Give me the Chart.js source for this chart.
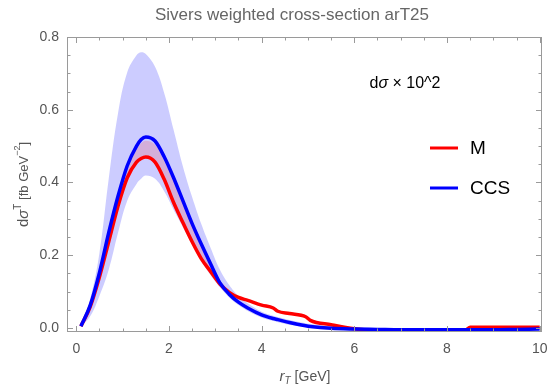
<!DOCTYPE html>
<html>
<head>
<meta charset="utf-8">
<script src="https://cdn.jsdelivr.net/npm/chart.js@4.4.1/dist/chart.umd.min.js"></script>
<style>
  html, body { margin: 0; padding: 0; background: #fff; }
  #wrap { width: 547px; height: 384px; }
</style>
</head>
<body>
<div id="wrap"><canvas id="chart" width="547" height="384"></canvas></div>
<script>
// --- Données ---
const rT = [0.1, 0.3, 0.5, 0.7, 0.9, 1.1, 1.3, 1.4, 1.5, 1.7, 1.9, 2.1, 2.3, 2.5, 2.7, 2.9, 3.1, 3.3, 3.5, 3.7,
            4.0, 4.25, 4.35, 4.6, 4.95, 5.05, 5.5, 6.0, 6.5, 7.0, 7.5, 8.0, 8.4, 8.5, 9.0, 9.5, 10.0];

const ccs = [0.005, 0.062, 0.152, 0.262, 0.362, 0.446, 0.500, 0.518, 0.525, 0.514, 0.470, 0.413, 0.350, 0.287, 0.230, 0.176, 0.124, 0.093, 0.071, 0.055,
             0.036, 0.026, 0.023, 0.015, 0.006, 0.004, -0.001, -0.003, -0.004, -0.005, -0.005, -0.005, -0.005, -0.005, -0.005, -0.004, -0.003];

const mCurve = [0.005, 0.058, 0.140, 0.237, 0.335, 0.413, 0.456, 0.466, 0.470, 0.456, 0.408, 0.345, 0.290, 0.237, 0.190, 0.155, 0.121, 0.098, 0.084, 0.076,
                0.063, 0.055, 0.046, 0.040, 0.031, 0.021, 0.009, -0.002, -0.007, -0.009, -0.009, -0.006, -0.005, 0.002, 0.002, 0.002, 0.002];

// bande rouge (M) : du trait rouge jusqu'à cette courbe
const mBandUpper = [0.005, 0.060, 0.146, 0.252, 0.352, 0.437, 0.490, 0.508, 0.515, 0.504, 0.460, 0.404, 0.342, 0.280, 0.224, 0.170, 0.122, 0.098, 0.084, 0.076,
                    0.063, 0.055, 0.046, 0.040, 0.031, 0.021, 0.009, -0.002, -0.007, -0.009, -0.009, -0.006, -0.005, 0.002, 0.002, 0.002, 0.002];

// bande bleue (incertitude)
const bandUpper = [0.006, 0.080, 0.206, 0.410, 0.590, 0.703, 0.750, 0.758, 0.753, 0.718, 0.645, 0.545, 0.445, 0.360, 0.285, 0.220, 0.160, 0.118, 0.088, 0.068,
                   0.045, 0.034, 0.030, 0.022, 0.013, 0.011, 0.005, 0.000, -0.002, -0.003, -0.003, -0.003, -0.003, -0.003, -0.003, -0.002, -0.001];
const bandLower = [0.004, 0.032, 0.088, 0.160, 0.261, 0.350, 0.396, 0.410, 0.419, 0.410, 0.375, 0.325, 0.278, 0.230, 0.184, 0.145, 0.112, 0.084, 0.063, 0.047,
                   0.029, 0.019, 0.016, 0.009, 0.002, 0.000, -0.004, -0.006, -0.007, -0.007, -0.007, -0.007, -0.007, -0.007, -0.007, -0.007, -0.006];

const xTickLabels = [0, 2, 4, 6, 8, 10];
const yTickLabels = [0.0, 0.2, 0.4, 0.6, 0.8];

const FONT = '"Liberation Sans", Arial, Helvetica, sans-serif';
const pts = arr => arr.map((v, i) => ({ x: rT[i], y: v }));

// --- Cadre et graduations intérieures (style Mathematica) ---
const framePlugin = {
    id: 'frame',
    afterDatasetsDraw(chart) {
        const { ctx, chartArea: a, scales: { x, y } } = chart;
        ctx.save();
        ctx.strokeStyle = '#9a9a9a';
        ctx.lineWidth = 1;
        ctx.strokeRect(a.left + 0.5, a.top + 0.5, a.width - 1, a.height - 1);
        ctx.beginPath();
        for (let i = 0; i <= 20; i++) {
            const v = i * 0.5;
            const len = (i % 4 === 0) ? 6 : 3.5;
            const px = Math.round(x.getPixelForValue(v)) + 0.5;
            ctx.moveTo(px, a.bottom); ctx.lineTo(px, a.bottom - len);
            ctx.moveTo(px, a.top); ctx.lineTo(px, a.top + len);
        }
        for (let i = 0; i <= 16; i++) {
            const v = i * 0.05;
            const len = (i % 4 === 0) ? 6 : 3.5;
            const py = Math.round(y.getPixelForValue(v)) + 0.5;
            ctx.moveTo(a.left, py); ctx.lineTo(a.left + len, py);
            ctx.moveTo(a.right, py); ctx.lineTo(a.right - len, py);
        }
        ctx.stroke();
        ctx.restore();
    }
};

// écrit une suite de morceaux [texte, police, décalage vertical] centrée sur cx
function drawRuns(ctx, runs, cx, cy) {
    let total = 0;
    runs.forEach(r => { ctx.font = r[1]; total += ctx.measureText(r[0]).width; });
    let xPos = cx - total / 2;
    runs.forEach(r => {
        ctx.font = r[1];
        ctx.fillText(r[0], xPos, cy + (r[2] || 0));
        xPos += ctx.measureText(r[0]).width;
    });
}

// --- Textes : titre, annotation, légende, titres des axes ---
const textPlugin = {
    id: 'texts',
    afterDraw(chart) {
        const { ctx, chartArea: a } = chart;
        ctx.save();
        ctx.textBaseline = 'middle';
        ctx.textAlign = 'left';

        // titre
        ctx.fillStyle = '#666';
        drawRuns(ctx, [['Sivers weighted cross-section arT25', `17px ${FONT}`]], 292, 15);

        // annotation
        ctx.fillStyle = '#000';
        drawRuns(ctx, [
            ['d', `16px ${FONT}`],
            ['σ', `italic 16px ${FONT}`],
            [' × 10^2', `16px ${FONT}`]
        ], 405, 84);

        // légende
        const ds = chart.data.datasets;
        [[ds[1], 148], [ds[0], 188]].forEach(([d, ly]) => {
            ctx.strokeStyle = d.borderColor;
            ctx.lineWidth = 3;
            ctx.beginPath();
            ctx.moveTo(430, ly); ctx.lineTo(458, ly);
            ctx.stroke();
            ctx.fillStyle = '#000';
            ctx.font = `19px ${FONT}`;
            ctx.fillText(d.label, 470, ly + 1);
        });

        // titre axe x
        ctx.fillStyle = '#555';
        drawRuns(ctx, [
            ['r', `italic 15px ${FONT}`],
            ['T', `italic 10px ${FONT}`, 4],
            [' [GeV]', `14px ${FONT}`]
        ], 305, 377);

        // titre axe y (pivoté)
        ctx.translate(24, (a.top + a.bottom) / 2);
        ctx.rotate(-Math.PI / 2);
        drawRuns(ctx, [
            ['d', `15px ${FONT}`],
            ['σ', `italic 15px ${FONT}`],
            ['T', `10px ${FONT}`, -6],
            [' [fb GeV', `13px ${FONT}`],
            ['−2', `9px ${FONT}`, -6],
            [']', `13px ${FONT}`]
        ], 0, 0);
        ctx.restore();
    }
};

const ctx = document.getElementById('chart').getContext('2d');
new Chart(ctx, {
    type: 'line',
    data: {
        datasets: [
            { label: 'CCS', data: pts(ccs), borderColor: '#0000ff', borderWidth: 3.5, pointRadius: 0, fill: false, cubicInterpolationMode: 'monotone' },
            { label: 'M', data: pts(mCurve), borderColor: '#ff0000', borderWidth: 3.5, pointRadius: 0, fill: false, cubicInterpolationMode: 'monotone' },
            { label: 'M band', data: pts(mBandUpper), borderWidth: 0, borderColor: 'rgba(0,0,0,0)', pointRadius: 0,
              fill: 1, backgroundColor: 'rgba(255,0,0,0.15)', cubicInterpolationMode: 'monotone' },
            { label: 'band upper', data: pts(bandUpper), borderWidth: 0, borderColor: 'rgba(0,0,0,0)', pointRadius: 0,
              fill: '+1', backgroundColor: 'rgba(0,0,255,0.2)', tension: 0.4 },
            { label: 'band lower', data: pts(bandLower), borderWidth: 0, borderColor: 'rgba(0,0,0,0)', pointRadius: 0,
              fill: false, tension: 0.4 }
        ]
    },
    options: {
        responsive: false,
        animation: false,
        layout: { padding: { top: 37, right: 5, left: 0, bottom: 0 } },
        plugins: { legend: { display: false }, tooltip: { enabled: false }, title: { display: false } },
        scales: {
            x: {
                type: 'linear', min: -0.2, max: 10.05,
                grid: { display: false, drawTicks: false }, border: { display: false },
                ticks: { color: '#555', padding: 9, font: { family: FONT, size: 14 }, callback: v => String(v), maxRotation: 0 },
                afterBuildTicks: s => { s.ticks = xTickLabels.map(v => ({ value: v })); },
                afterFit: s => { s.height = 52; s.paddingLeft = 0; s.paddingRight = 0; }
            },
            y: {
                type: 'linear', min: -0.011, max: 0.8,
                grid: { display: false, drawTicks: false }, border: { display: false },
                ticks: { color: '#555', padding: 8, font: { family: FONT, size: 14 }, callback: v => v.toFixed(1) },
                afterBuildTicks: s => { s.ticks = yTickLabels.map(v => ({ value: v })); },
                afterFit: s => { s.width = 67; s.paddingTop = 0; s.paddingBottom = 0; }
            }
        }
    },
    plugins: [framePlugin, textPlugin]
});
</script>
</body>
</html>
